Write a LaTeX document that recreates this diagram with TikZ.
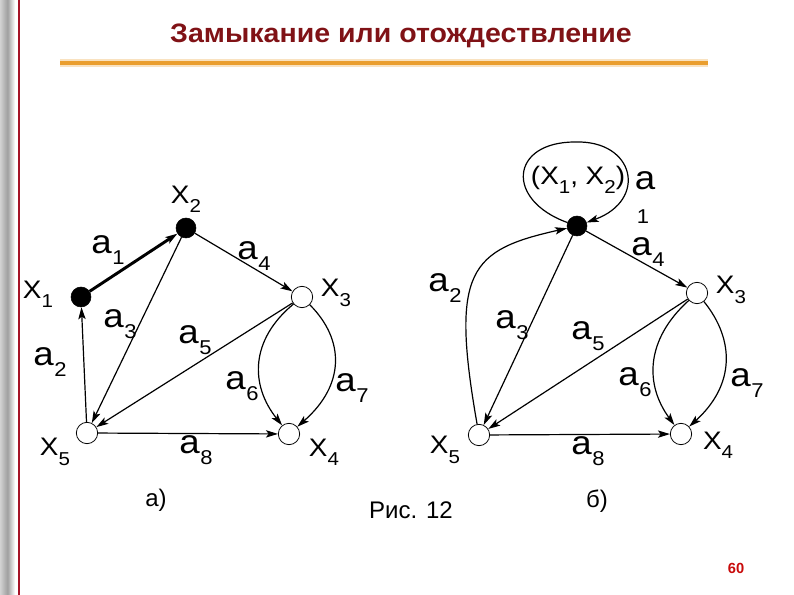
\documentclass[tikz,border=0pt]{standalone}
\usepackage{fontspec}
\setmainfont{Liberation Sans}
\newfontfamily\titlefont[FakeStretch=1.07]{Liberation Sans}
\newfontfamily\lblfont[FakeStretch=1.1]{Liberation Sans}
\usetikzlibrary{arrows.meta}

\definecolor{titlered}{RGB}{128,18,22}
\definecolor{barorange}{RGB}{234,158,46}
\definecolor{rulered}{RGB}{165,20,40}
\definecolor{pagered}{RGB}{200,10,10}

\newcommand{\afont}{\lblfont\fontsize{25}{25}\selectfont}
\newcommand{\xfont}{\lblfont\fontsize{19}{19}\selectfont}
\newcommand{\av}[1]{{\afont a}\kern0.5pt\raisebox{-8pt}{\lblfont\fontsize{15}{15}\selectfont #1}}
\newcommand{\xv}[1]{{\xfont X}\raisebox{-7pt}{\lblfont\fontsize{14}{14}\selectfont #1}}

\tikzset{
  vtxfull/.style={circle,draw=black,fill=black,inner sep=0pt,minimum size=15pt},
  vtxopen/.style={circle,draw=black,fill=white,line width=0.6pt,inner sep=0pt,minimum size=16pt},
  arc/.style={line width=0.9pt,-{Stealth[length=9pt,width=5.5pt,inset=2pt]}},
  lbl/.style={inner sep=0.5pt}
}

\begin{document}
\begin{tikzpicture}[x=0.75pt,y=0.75pt,yscale=-1,xscale=1]
\useasboundingbox (0,0) rectangle (794,595);

%Slide frame
\shade[left color=gray!35,right color=white,middle color=gray!75] (0,0) rectangle (15,595);
\draw [color=rulered,line width=1.1pt] (19,0) -- (19,595);
\draw [color=barorange!30,line width=6pt] (60,63) -- (708,63);
\draw [color=barorange,line width=2.6pt] (60,63) -- (708,63);

% Text Node
\draw (401,36) node [color=titlered,font=\titlefont\bfseries\fontsize{20}{20}\selectfont] (title) {Замыкание или отождествление};

%Vertices a)
\draw (81,297) node [vtxfull] (x1) {};
\draw (186,228) node [vtxfull] (x2) {};
\draw (302,297) node [vtxopen] (x3) {};
\draw (289,434) node [vtxopen] (x4) {};
\draw (87,433) node [vtxopen] (x5) {};

%Straight Lines
\draw [arc,line width=2.2pt] (x1) -- (x2);
\draw [arc] (x5) -- (x1);
\draw [arc] (x2) -- (x5);
\draw [arc] (x2) -- (x3);
\draw [arc] (x3) -- (x5);
\draw [arc] (x5) -- (x4);
%Curve Lines
\draw [arc] (x3) .. controls (250,340) and (250,385) .. (x4);
\draw [arc] (x3) .. controls (345,340) and (345,385) .. (x4);

% Text Node
\draw (38,294) node [lbl] (lx1) {\xv{1}};
\draw (186,199) node [lbl] (lx2) {\xv{2}};
\draw (336,293) node [lbl] (lx3) {\xv{3}};
\draw (324,452) node [lbl] (lx4) {\xv{4}};
\draw (55,452) node [lbl] (lx5) {\xv{5}};
\draw (108,250) node [lbl] (la1) {\av{1}};
\draw (50,362) node [lbl] (la2) {\av{2}};
\draw (120,324) node [lbl] (la3) {\av{3}};
\draw (254,256) node [lbl] (la4) {\av{4}};
\draw (195,340) node [lbl] (la5) {\av{5}};
\draw (242,386) node [lbl] (la6) {\av{6}};
\draw (352,388) node [lbl] (la7) {\av{7}};
\draw (196,450) node [lbl] (la8) {\av{8}};

%Vertices б)
\draw (577,226) node [vtxfull] (m) {};
\draw (697,293) node [vtxopen] (x3b) {};
\draw (681,434) node [vtxopen] (x4b) {};
\draw (479,435) node [vtxopen] (x5b) {};

%Straight Lines
\draw [arc] (m) -- (x5b);
\draw [arc] (m) -- (x3b);
\draw [arc] (x3b) -- (x5b);
\draw [arc] (x5b) -- (x4b);
%Curve Lines
\draw [arc] (m) .. controls (505,200) and (510,142) .. (575,142) .. controls (635,140) and (648,200) .. (m);
\draw [arc] (x5b) .. controls (450,270) and (470,250) .. (m);
\draw [arc] (x3b) .. controls (645,340) and (645,385) .. (x4b);
\draw [arc] (x3b) .. controls (735,340) and (735,385) .. (x4b);

% Text Node
\draw (578,180) node [lbl] (lm) {\xfont(\xv{1}, \xv{2})};
\draw (645,181) node [lbl] (la1b) {\afont a};
\draw (643,217) node [lbl] (la1s) {\lblfont\fontsize{15}{15}\selectfont 1};
\draw (731,290) node [lbl] (lx3b) {\xv{3}};
\draw (718,445) node [lbl] (lx4b) {\xv{4}};
\draw (445,450) node [lbl] (lx5b) {\xv{5}};
\draw (445,288) node [lbl] (la2b) {\av{2}};
\draw (512,325) node [lbl] (la3b) {\av{3}};
\draw (648,252) node [lbl] (la4b) {\av{4}};
\draw (588,336) node [lbl] (la5b) {\av{5}};
\draw (635,382) node [lbl] (la6b) {\av{6}};
\draw (747,383) node [lbl] (la7b) {\av{7}};
\draw (588,451) node [lbl] (la8b) {\av{8}};

% Text Node
\draw (156,500) node [font=\fontsize{18}{18}\selectfont] (capa) {а)};
\draw (411,510) node [font=\fontsize{18}{18}\selectfont] (cap) {Рис. 12};
\draw (597,501) node [font=\fontsize{18}{18}\selectfont] (capb) {б)};
\draw (736,568) node [color=pagered,font=\bfseries\fontsize{11}{11}\selectfont] (page) {60};

\end{tikzpicture}
\end{document}
